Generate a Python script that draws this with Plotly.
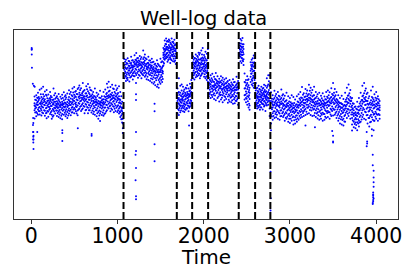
import plotly.graph_objects as go

title_text = "Well-log data"
x_label = "Time"
x_ticks = [0, 1000, 2000, 3000, 4000]
changepoints = [1070, 1688, 1866, 2051, 2406, 2596, 2773]

outlier_times = [5, 5, 6, 6, 8, 18, 30, 40, 22, 24, 20, 22, 26, 22, 24, 24, 26, 24, 26, 70, 360, 360, 360, 540, 700, 700,
                 1215, 1215, 1215, 1215, 1215, 1210, 1215, 1210, 1215, 1215, 1430, 1430, 1430, 1430, 1830,
                 2775, 2775, 2778, 2775, 3180, 3290, 3490, 3500, 3500, 3500, 3720, 3890, 3895, 3895, 3890, 3950, 3950,
                 3960, 3960, 3970, 3970, 3970, 3970, 3965, 3965, 3965, 3965, 3970, 3965, 3965, 3960, 3960, 3975, 3975, 3970]
outlier_values = [905, 895, 900, 870, 800, 715, 705, 700, 535, 508, 498, 460, 440, 420, 460, 435, 420, 405, 370, 460,
                  470, 455, 413, 480, 440, 450,
                  720, 660, 630, 460, 360, 340, 270, 205, 120, 105, 610, 570, 395, 305, 495,
                  370, 250, 110, 45, 495, 485, 465, 440, 410, 405, 468, 460, 410, 400, 385, 440, 475,
                  340, 285, 255, 220, 195, 170, 140, 130, 125, 115, 108, 100, 92, 85, 80, 520, 555, 470]

seg1_times = [38, 58, 78, 98, 118, 138, 158, 178, 198, 218, 238, 258, 278, 298, 318, 338, 358, 378, 398, 418, 438,
              458, 478, 498, 518, 538, 558, 578, 598, 618, 638, 658, 678, 698, 718, 738, 758, 778, 798, 818, 838,
              858, 878, 898, 918, 938, 958, 978, 998, 1018, 1032, 1044, 1054, 1062]
seg1_values = [
    [648, 612, 575, 600, 532], [655, 628, 590, 607, 566, 543], [668, 604, 622, 580, 551, 640],
    [684, 637, 611, 570, 592, 553], [691, 625, 646, 598, 575, 548], [700, 660, 618, 590, 560, 639],
    [675, 634, 602, 573, 546, 620], [682, 652, 615, 588, 562, 533], [659, 627, 594, 607, 569, 541],
    [672, 640, 610, 583, 556, 625], [644, 618, 598, 571, 552, 530], [690, 632, 606, 577, 548, 612],
    [666, 636, 601, 586, 558, 621], [650, 623, 596, 574, 545, 604], [661, 629, 608, 569, 540, 590],
    [647, 615, 592, 563, 533, 603], [658, 621, 587, 600, 556, 528], [670, 628, 609, 580, 551, 594],
    [655, 633, 597, 572, 543, 614], [664, 619, 593, 566, 535, 605], [681, 645, 612, 585, 558, 628],
    [672, 638, 603, 578, 549, 620], [690, 650, 618, 592, 565, 634], [698, 657, 624, 587, 560, 640],
    [677, 646, 617, 595, 570, 604], [688, 660, 628, 601, 574, 549], [706, 668, 637, 610, 583, 650],
    [692, 655, 626, 598, 572, 641], [719, 672, 640, 612, 585, 655], [682, 650, 622, 594, 560, 637],
    [703, 665, 634, 605, 578, 648], [714, 676, 643, 616, 589, 560], [696, 660, 631, 600, 575, 645],
    [680, 652, 624, 598, 563, 636], [672, 640, 612, 585, 555, 626], [690, 648, 615, 590, 551, 632],
    [668, 631, 604, 576, 543, 618], [660, 625, 596, 566, 530, 610], [678, 622, 590, 558, 518, 606],
    [650, 618, 585, 600, 550, 628], [672, 634, 604, 575, 546, 619], [685, 646, 618, 590, 560, 632],
    [716, 667, 637, 603, 575, 650], [726, 675, 642, 610, 584, 655], [698, 660, 628, 600, 570, 645],
    [710, 668, 636, 606, 578, 652], [688, 655, 625, 594, 565, 640], [706, 664, 632, 600, 572, 648],
    [692, 660, 628, 596, 566, 642], [702, 650, 615, 585, 558, 632], [672, 630, 596, 565, 540, 612],
    [650, 610, 575, 548, 528, 590], [620, 585, 555, 530, 510, 570], [590, 560, 530, 505, 480, 455],
]
fill1_times = [46, 69, 87, 111, 127, 149, 171, 186, 209, 227, 249, 266, 289, 307, 326, 349, 367, 389, 406, 429, 447,
               469, 487, 509, 526, 549, 567, 589, 607, 629, 647, 669, 686, 709, 727, 749, 766, 789, 806, 829, 847,
               869, 887, 909, 927, 949, 967, 989, 1007, 1026]
fill1_values = [
    [584, 596, 631, 563], [617, 641, 559, 603], [589, 646, 571, 629], [608, 583, 660, 617], [633, 564, 610, 592],
    [649, 575, 628, 604], [586, 658, 613, 560], [601, 572, 639, 624], [578, 636, 616, 592], [598, 651, 565, 631],
    [607, 582, 629, 541], [655, 589, 620, 569], [610, 574, 643, 593], [587, 638, 561, 614], [599, 622, 553, 577],
    [580, 636, 607, 546], [573, 604, 640, 613], [591, 648, 562, 617], [581, 607, 643, 554], [576, 632, 599, 548],
    [603, 662, 620, 571], [588, 655, 611, 564], [627, 579, 669, 606], [611, 673, 580, 649], [592, 632, 558, 661],
    [645, 614, 580, 695], [623, 594, 682, 658], [606, 666, 633, 580], [629, 598, 677, 646], [608, 664, 575, 630],
    [620, 592, 686, 654], [631, 603, 667, 575], [588, 650, 614, 683], [607, 574, 644, 660], [598, 620, 568, 651],
    [603, 575, 641, 622], [586, 651, 614, 559], [574, 613, 642, 547], [569, 601, 640, 615], [593, 632, 563, 612],
    [588, 650, 610, 555], [627, 569, 662, 604], [650, 590, 622, 696], [618, 678, 648, 596], [657, 585, 633, 612],
    [621, 691, 597, 644], [610, 672, 636, 583], [651, 589, 619, 683], [638, 602, 575, 667], [593, 633, 569, 618],
]

seg2_times = [1078, 1098, 1118, 1138, 1158, 1178, 1198, 1218, 1238, 1258, 1278, 1298, 1318, 1338, 1358, 1378, 1398,
              1418, 1438, 1458, 1478, 1498, 1518, 1532, 1548, 1564, 1580, 1596, 1612, 1628, 1644, 1660, 1676]
seg2_values = [
    [846, 815, 790, 768, 745], [842, 818, 797, 772, 752, 730], [850, 822, 800, 775, 748, 735],
    [835, 810, 786, 760, 728, 796], [858, 826, 802, 778, 752, 815], [840, 812, 792, 770, 738, 802],
    [866, 832, 808, 782, 755, 820], [878, 840, 815, 790, 762, 825], [852, 828, 806, 780, 748, 815],
    [862, 835, 812, 785, 758, 824], [856, 830, 800, 772, 745, 812], [892, 846, 818, 790, 760, 828],
    [870, 838, 810, 786, 752, 822], [845, 820, 795, 770, 740, 806], [858, 825, 800, 772, 735, 810],
    [838, 815, 788, 762, 730, 798], [848, 812, 785, 758, 722, 800], [832, 804, 780, 750, 715, 792],
    [822, 798, 772, 745, 708, 782], [840, 805, 776, 748, 700, 788], [815, 790, 765, 735, 695, 775],
    [848, 806, 778, 750, 715, 788], [835, 800, 775, 752, 725, 786], [905, 880, 855, 830, 812, 868],
    [945, 915, 885, 860, 842, 900], [955, 925, 898, 872, 850, 905], [942, 910, 880, 856, 832, 895],
    [950, 920, 890, 868, 845, 905], [932, 905, 878, 852, 825, 890], [955, 922, 895, 870, 840, 908],
    [938, 912, 885, 860, 835, 898], [948, 918, 890, 862, 832, 902], [925, 900, 875, 850, 820, 888],
]
fill2_times = [1089, 1107, 1129, 1147, 1169, 1187, 1208, 1228, 1247, 1269, 1287, 1308, 1327, 1348, 1367, 1389, 1407,
               1428, 1449, 1468, 1488, 1507, 1526, 1540, 1556, 1572, 1588, 1604, 1620, 1636, 1652, 1668]
fill2_values = [
    [781, 803, 832, 757], [763, 825, 794, 744], [811, 769, 836, 786], [749, 798, 824, 773], [786, 838, 761, 810],
    [775, 829, 756, 807], [795, 843, 771, 819], [804, 772, 850, 833], [763, 791, 838, 819], [818, 777, 846, 795],
    [783, 825, 766, 805], [799, 856, 773, 831], [777, 814, 851, 761], [791, 752, 826, 803], [764, 817, 782, 838],
    [805, 743, 772, 828], [771, 794, 829, 739], [762, 818, 725, 785], [793, 734, 760, 811], [757, 781, 822, 712],
    [778, 744, 808, 725], [762, 795, 829, 736], [770, 808, 741, 781], [872, 846, 895, 823], [893, 867, 926, 851],
    [877, 912, 858, 939], [865, 902, 938, 841], [881, 913, 856, 943], [898, 863, 926, 845], [884, 915, 868, 937],
    [873, 906, 930, 848], [892, 860, 921, 838],
]

seg3_times = [1696, 1712, 1728, 1744, 1760, 1776, 1792, 1808, 1824, 1840, 1856]
seg3_values = [
    [690, 655, 625, 595, 560, 640], [745, 672, 640, 610, 575, 550], [705, 668, 632, 598, 565, 620],
    [712, 680, 648, 615, 585, 632], [700, 665, 630, 600, 570, 645], [685, 655, 622, 594, 566, 610],
    [695, 662, 635, 604, 578, 648], [708, 672, 640, 612, 585, 655], [690, 660, 630, 598, 570, 645],
    [715, 680, 648, 618, 595, 660], [735, 690, 655, 625, 600, 672],
]
fill3_times = [1704, 1720, 1736, 1752, 1768, 1784, 1800, 1816, 1832, 1848]
fill3_values = [
    [612, 668, 581, 634], [628, 587, 658, 603], [601, 652, 617, 574], [660, 626, 593, 637], [586, 648, 611, 676],
    [632, 604, 668, 579], [618, 654, 587, 690], [601, 663, 625, 640], [653, 612, 676, 588], [667, 630, 699, 610],
]

seg4_times = [1876, 1892, 1908, 1924, 1940, 1956, 1972, 1988, 2004, 2020, 2036, 2048]
seg4_values = [
    [860, 830, 800, 775, 745], [852, 825, 796, 768, 738, 810], [870, 835, 805, 778, 750, 820],
    [862, 838, 812, 782, 755, 798], [880, 845, 815, 788, 760, 825], [878, 842, 810, 785, 745, 800],
    [892, 850, 818, 790, 762, 830], [905, 855, 822, 795, 770, 838], [868, 838, 808, 780, 752, 822],
    [885, 848, 815, 785, 745, 800], [875, 840, 806, 772, 735, 820], [900, 850, 815, 770, 725, 690],
]
fill4_times = [1884, 1900, 1916, 1932, 1948, 1964, 1980, 1996, 2012, 2028, 2042]
fill4_values = [
    [786, 818, 842, 761], [807, 775, 851, 827], [793, 828, 762, 846], [811, 773, 857, 834], [798, 768, 826, 869],
    [820, 782, 845, 757], [802, 839, 771, 871], [817, 785, 848, 806], [794, 829, 766, 857], [809, 775, 838, 752],
    [795, 758, 826, 783],
]

seg5_times = [2060, 2080, 2100, 2120, 2140, 2160, 2180, 2200, 2220, 2240, 2260, 2280, 2300, 2320, 2340, 2360, 2380, 2398]
seg5_values = [
    [748, 722, 695, 668, 650, 708], [760, 730, 700, 672, 640, 712], [768, 735, 705, 675, 645, 690],
    [752, 725, 698, 665, 635, 708], [772, 738, 708, 678, 628, 692], [755, 728, 700, 670, 640, 715],
    [742, 720, 692, 662, 622, 705], [755, 722, 690, 658, 632, 702], [748, 715, 688, 655, 618, 672],
    [738, 712, 682, 650, 628, 696], [745, 718, 690, 660, 635, 700], [730, 705, 678, 648, 615, 690],
    [735, 710, 680, 652, 622, 694], [722, 700, 672, 645, 618, 685], [740, 708, 678, 650, 610, 690],
    [725, 698, 670, 642, 612, 682], [752, 712, 682, 650, 625, 695], [730, 702, 668, 640, 605, 685],
]
fill5_times = [2071, 2091, 2110, 2131, 2150, 2171, 2190, 2211, 2230, 2250, 2271, 2290, 2311, 2330, 2351, 2370, 2389]
fill5_values = [
    [716, 684, 737, 661], [691, 723, 656, 745], [728, 683, 701, 658], [686, 714, 741, 654], [719, 665, 697, 733],
    [683, 708, 648, 726], [698, 729, 671, 655], [682, 711, 641, 734], [706, 664, 726, 693], [674, 718, 645, 698],
    [707, 669, 683, 725], [659, 699, 716, 631], [688, 664, 705, 641], [713, 656, 681, 628], [662, 695, 724, 633],
    [684, 651, 707, 626], [666, 697, 633, 718],
]

seg6_times = [2414, 2426, 2438, 2450, 2462, 2474, 2474, 2490, 2505, 2520, 2532, 2544, 2556, 2568, 2580, 2590]
seg6_values = [
    [930, 905, 880, 862], [952, 915, 888, 858, 835], [945, 912, 882, 852, 825], [958, 925, 890, 868, 840],
    [925, 900, 872, 845, 815], [770, 725], [632, 655, 690],
    [735, 705, 675, 640, 618], [755, 720, 688, 650, 605], [740, 708, 672, 645, 590], [695, 668, 635, 600, 578],
    [830, 785, 752, 725], [842, 805, 770, 738, 712], [850, 815, 780, 745, 705], [865, 825, 785, 750, 695],
    [850, 810, 770, 735],
]
fill6_times = [2420, 2432, 2444, 2456, 2482, 2498, 2512, 2526, 2550, 2562, 2574, 2586]
fill6_values = [
    [897, 872, 918], [870, 929, 898], [906, 851, 868], [882, 911, 835], [692, 658, 722], [664, 712, 636],
    [698, 623, 735], [655, 682, 610], [815, 769, 795], [792, 731, 828], [758, 806, 718], [784, 829, 748],
]

seg7_times = [2604, 2620, 2636, 2652, 2668, 2684, 2700, 2716, 2732, 2748, 2764]
seg7_values = [
    [720, 680, 645, 618, 595], [695, 665, 640, 612, 585, 650], [705, 672, 648, 620, 590, 632],
    [685, 660, 632, 605, 578, 645], [700, 668, 642, 618, 590, 655], [690, 662, 635, 610, 580, 630],
    [710, 675, 650, 622, 595, 660], [705, 670, 645, 615, 572, 640], [745, 695, 660, 630, 600, 648],
    [760, 712, 672, 640, 605, 625], [760, 705, 665, 625, 585, 545],
]
fill7_times = [2612, 2628, 2644, 2660, 2676, 2692, 2708, 2724, 2740, 2756]
fill7_values = [
    [656, 628, 690, 604], [677, 613, 641, 598], [627, 660, 599, 688], [648, 621, 676, 591], [610, 652, 681, 628],
    [637, 668, 606, 693], [654, 624, 683, 600], [633, 676, 609, 652], [667, 618, 704, 641], [682, 636, 729, 658],
]

seg8_times = [2780, 2800, 2820, 2840, 2860, 2880, 2900, 2920, 2940, 2960, 2980, 3000, 3020, 3040, 3060, 3080, 3100, 3120,
              3140, 3160, 3180, 3200, 3220, 3240, 3260, 3280, 3300, 3320, 3340, 3360, 3380, 3400, 3420, 3440, 3460,
              3480, 3500, 3520, 3540, 3560, 3580, 3600, 3620, 3640, 3660, 3680, 3700, 3720, 3740, 3760, 3780, 3800,
              3820, 3840, 3860, 3880, 3900, 3920, 3940, 3960, 3980, 4000, 4020, 4040]
seg8_values = [
    [670, 625, 590, 550, 505, 470], [655, 622, 590, 560, 525, 605], [678, 640, 604, 570, 535, 615],
    [662, 628, 598, 565, 538, 612], [672, 635, 600, 572, 530, 618], [648, 618, 590, 558, 525, 602],
    [685, 640, 608, 575, 545, 622], [660, 630, 598, 566, 540, 610], [652, 620, 585, 556, 520, 600],
    [668, 628, 592, 560, 530, 606], [650, 612, 580, 550, 515, 598], [640, 605, 575, 545, 508, 590],
    [655, 610, 578, 552, 520, 595], [645, 602, 570, 542, 500, 588], [632, 598, 566, 538, 505, 580],
    [650, 606, 575, 548, 515, 590], [660, 618, 588, 558, 525, 602], [672, 630, 598, 566, 535, 612],
    [698, 640, 605, 572, 540, 620], [665, 632, 600, 570, 545, 615], [688, 648, 615, 582, 550, 630],
    [680, 650, 620, 590, 555, 635], [710, 662, 628, 596, 560, 642], [695, 655, 622, 590, 550, 636],
    [682, 648, 618, 588, 545, 630], [700, 655, 615, 582, 548, 632], [672, 640, 605, 575, 540, 620],
    [660, 625, 595, 565, 532, 610], [668, 630, 600, 568, 525, 612], [652, 620, 590, 560, 530, 605],
    [665, 628, 596, 562, 520, 610], [648, 615, 585, 555, 525, 600], [672, 632, 600, 570, 535, 615],
    [680, 640, 605, 572, 540, 622], [670, 635, 602, 565, 530, 618], [692, 645, 612, 578, 545, 625],
    [720, 655, 618, 585, 548, 636], [688, 648, 612, 580, 552, 630], [672, 635, 600, 568, 535, 618],
    [655, 622, 590, 555, 520, 605], [640, 612, 578, 545, 505, 595], [652, 608, 572, 540, 500, 590],
    [635, 598, 565, 530, 495, 580], [668, 620, 585, 550, 515, 600], [695, 640, 605, 570, 535, 620],
    [712, 655, 615, 580, 545, 635], [682, 645, 610, 575, 530, 625], [640, 600, 565, 535, 500, 580],
    [610, 575, 545, 515, 485, 560], [595, 565, 535, 510, 480, 550], [620, 580, 545, 512, 470, 560],
    [640, 595, 555, 520, 490, 575], [668, 620, 585, 548, 515, 600], [705, 650, 610, 575, 540, 630],
    [720, 665, 620, 580, 530, 640], [690, 645, 605, 565, 525, 625], [668, 625, 590, 550, 505, 610],
    [650, 610, 572, 535, 490, 590], [680, 628, 590, 552, 515, 605], [700, 640, 600, 565, 525, 620],
    [660, 622, 588, 555, 520, 605], [672, 628, 595, 560, 530, 610], [650, 618, 585, 552, 520, 600],
    [625, 600, 575, 550, 530, 590],
]
fill8_times = [2791, 2809, 2831, 2849, 2871, 2889, 2911, 2929, 2951, 2969, 2991, 3009, 3031, 3049, 3071, 3089, 3111,
               3129, 3151, 3169, 3191, 3209, 3231, 3249, 3271, 3289, 3311, 3329, 3351, 3369, 3391, 3409, 3431, 3449,
               3471, 3489, 3511, 3529, 3551, 3569, 3591, 3609, 3631, 3649, 3671, 3689, 3711, 3729, 3751, 3769, 3791,
               3809, 3831, 3849, 3871, 3889, 3911, 3929, 3951, 3969, 3991, 4009, 4029]
fill8_values = [
    [581, 614, 542, 636], [601, 569, 633, 545], [587, 622, 556, 651], [607, 578, 641, 551], [596, 563, 629, 652],
    [574, 610, 543, 634], [612, 587, 653, 559], [579, 605, 638, 548], [594, 565, 625, 536], [613, 574, 541, 601],
    [587, 557, 622, 530], [566, 599, 531, 618], [584, 611, 538, 566], [559, 588, 523, 614], [573, 606, 548, 527],
    [562, 596, 622, 533], [604, 571, 637, 545], [581, 618, 552, 643], [589, 628, 561, 657], [612, 577, 645, 594],
    [605, 634, 568, 664], [628, 588, 656, 604], [611, 642, 577, 678], [603, 668, 574, 632], [622, 580, 653, 599],
    [595, 637, 561, 608], [612, 584, 648, 558], [581, 611, 637, 549], [603, 574, 628, 543], [579, 613, 552, 639],
    [592, 556, 624, 607], [576, 610, 541, 633], [618, 589, 647, 561], [598, 626, 565, 655], [612, 583, 641, 553],
    [630, 595, 662, 572], [609, 640, 578, 668], [592, 625, 561, 655], [580, 613, 547, 629], [566, 596, 533, 618],
    [587, 556, 614, 528], [561, 589, 524, 607], [576, 603, 545, 516], [597, 631, 562, 584], [614, 582, 652, 557],
    [628, 596, 665, 563], [592, 625, 553, 637], [553, 586, 521, 612], [527, 558, 592, 503], [549, 528, 583, 498],
    [563, 528, 594, 505], [576, 540, 611, 510], [596, 561, 630, 527], [621, 587, 654, 552], [603, 634, 568, 678],
    [626, 583, 661, 549], [604, 569, 639, 535], [579, 545, 617, 512], [612, 573, 646, 538], [585, 631, 552, 606],
    [596, 568, 641, 541], [608, 579, 637, 553], [581, 612, 556, 633],
]

segments = [
    (seg1_times, seg1_values), (fill1_times, fill1_values), (seg2_times, seg2_values), (fill2_times, fill2_values),
    (seg3_times, seg3_values), (fill3_times, fill3_values), (seg4_times, seg4_values), (fill4_times, fill4_values),
    (seg5_times, seg5_values), (fill5_times, fill5_values), (seg6_times, seg6_values), (fill6_times, fill6_values),
    (seg7_times, seg7_values), (fill7_times, fill7_values), (seg8_times, seg8_values), (fill8_times, fill8_values),
]

all_t = list(outlier_times)
all_v = list(outlier_values)
for times, columns in segments:
    for t, col in zip(times, columns):
        all_t.extend([t] * len(col))
        all_v.extend(col)

font_family = "DejaVu Sans"
fig = go.Figure(go.Scatter(x=all_t, y=all_v, mode="markers",
                           marker=dict(color="#0000ff", size=2, line=dict(width=0)),
                           cliponaxis=True, showlegend=False, hoverinfo="skip"))

for cp in changepoints:
    fig.add_shape(type="line", x0=cp, x1=cp, yref="paper", y0=0, y1=1,
                  line=dict(color="black", width=2, dash="7px,3px"), layer="above")

fig.add_annotation(text=x_label, xref="paper", yref="paper", x=0.5, y=-38 / 189, xanchor="center", yanchor="middle",
                   showarrow=False, font=dict(size=20, color="black", family=font_family))

fig.update_layout(
    width=415, height=277, autosize=False,
    margin=dict(l=14, r=17, t=30, b=58, pad=0),
    paper_bgcolor="white", plot_bgcolor="white",
    font=dict(family=font_family, color="black"),
    title=dict(text=title_text, font=dict(size=19.4, color="black", family=font_family),
               x=205 / 415, xanchor="center", xref="paper", y=1 - 18 / 277, yanchor="middle"),
)
fig.update_xaxes(
    range=[-200, 4253], tickmode="array", tickvals=x_ticks, ticks="outside", ticklen=4, tickwidth=1,
    tickcolor="#333333", showgrid=False, zeroline=False, showline=True, linecolor="#333333", linewidth=1.2,
    mirror=True, tickfont=dict(size=20.5, color="black"), ticklabelstandoff=-6,
    automargin=False,
)
fig.update_yaxes(
    range=[0, 1000], showticklabels=False, ticks="", showgrid=False, zeroline=False,
    showline=True, linecolor="#333333", linewidth=1.2, mirror=True, automargin=False,
)
fig.write_html("out.html", config=dict(displayModeBar=False),
               post_script="document.body.style.margin='0';")
